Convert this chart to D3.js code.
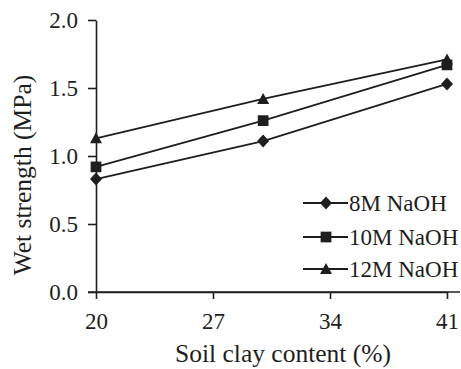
<!DOCTYPE html>
<html>
<head>
<meta charset="utf-8">
<script src="https://cdn.jsdelivr.net/npm/d3@7"></script>
<style>
  html, body { margin: 0; padding: 0; background: #fff; }
  svg { display: block; }
  text { font-family: "Liberation Serif", "Times New Roman", serif; fill: #1e1e1e; }
</style>
</head>
<body>
<svg id="chart" width="461" height="369"></svg>
<script>
// Soil clay content (%) sampled
const clayContent = [20, 30, 41];
// Wet strength (MPa) per NaOH concentration
const naoh8M  = [0.83, 1.11, 1.53];
const naoh10M = [0.92, 1.26, 1.67];
const naoh12M = [1.13, 1.42, 1.71];
const seriesNames = ["8M NaOH", "10M NaOH", "12M NaOH"];
const xTicks = [20, 27, 34, 41];
const yTicks = [0.0, 0.5, 1.0, 1.5, 2.0];

const svg = d3.select("#chart");
const ink = "#1e1e1e";

const x = d3.scaleLinear().domain([20, 41]).range([96, 447]);
const y = d3.scaleLinear().domain([0, 2]).range([292, 20]);

// Axes
const xAxis = svg.append("g")
  .attr("transform", `translate(0,${y(0)})`)
  .call(d3.axisBottom(x).tickValues(xTicks).tickFormat(d3.format("d"))
        .tickSize(7).tickSizeOuter(0).tickPadding(14));
const yAxis = svg.append("g")
  .attr("transform", `translate(${x(20)},0)`)
  .call(d3.axisLeft(y).tickValues(yTicks).tickFormat(d3.format(".1f"))
        .tickSize(8).tickSizeOuter(0).tickPadding(10));

[xAxis, yAxis].forEach(g => {
  g.selectAll("path, line").attr("stroke", ink).attr("stroke-width", 1.6);
  g.selectAll("text").attr("font-size", 23).attr("fill", ink)
    .style("font-family", '"Liberation Serif", serif');
});
yAxis.selectAll("text").attr("dy", "0.34em");

// x axis baseline runs across the whole plot width
svg.append("line")
  .attr("x1", x(20) - 8).attr("x2", 460)
  .attr("y1", y(0)).attr("y2", y(0))
  .attr("stroke", ink).attr("stroke-width", 1.6);

// Axis titles
svg.append("text")
  .attr("x", 283).attr("y", 362)
  .attr("text-anchor", "middle").attr("font-size", 25.5)
  .text("Soil clay content (%)");
svg.append("text")
  .attr("transform", "translate(31,175) rotate(-90)")
  .attr("text-anchor", "middle").attr("font-size", 25.5)
  .text("Wet strength (MPa)");

// Marker shapes
const symbols = [
  () => "M0,-6.5L6,0L0,6.5L-6,0Z",
  d3.symbol().type(d3.symbolSquare).size(115),
  () => "M0,-6L6,5L-6,5Z"
];

const seriesValues = [naoh8M, naoh10M, naoh12M];
const line = d3.line().x(d => x(d[0])).y(d => y(d[1]));

seriesValues.forEach((vals, i) => {
  const pts = clayContent.map((c, j) => [c, vals[j]]);
  svg.append("path")
    .datum(pts)
    .attr("d", line)
    .attr("fill", "none")
    .attr("stroke", ink)
    .attr("stroke-width", 1.8);
  svg.append("g").selectAll("path")
    .data(pts).join("path")
    .attr("d", symbols[i]())
    .attr("transform", d => `translate(${x(d[0])},${y(d[1])})`)
    .attr("fill", ink);
});

// Legend
const legendRows = [203, 237, 269];
seriesNames.forEach((name, i) => {
  const g = svg.append("g").attr("transform", `translate(0,${legendRows[i]})`);
  g.append("line").attr("x1", 303).attr("x2", 348).attr("y1", 0).attr("y2", 0)
    .attr("stroke", ink).attr("stroke-width", 1.8);
  g.append("path").attr("d", symbols[i]()).attr("transform", "translate(326,0)").attr("fill", ink);
  g.append("text").attr("x", 349).attr("y", 0).attr("dy", "0.34em")
    .attr("font-size", 23).text(name);
});
</script>
</body>
</html>
